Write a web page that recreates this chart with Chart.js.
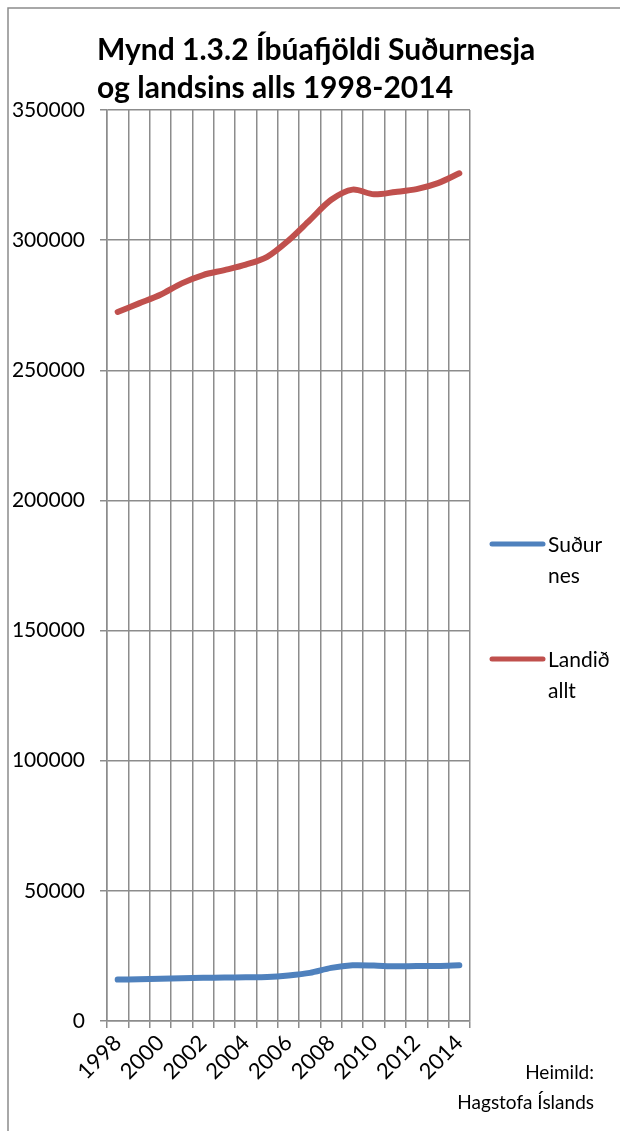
<!DOCTYPE html>
<html>
<head>
<meta charset="utf-8">
<script src="https://cdn.jsdelivr.net/npm/chart.js@4"></script>
<style>
  html, body { margin: 0; padding: 0; background: #fff; }
  #wrap { width: 620px; height: 1131px; }
</style>
</head>
<body>
<div id="wrap"><canvas id="chart-1" width="620" height="1131"></canvas></div>
<script>
const years = ["1998", "1999", "2000", "2001", "2002", "2003", "2004", "2005", "2006",
  "2007", "2008", "2009", "2010", "2011", "2012", "2013", "2014"];
const sudurnes = [15900, 16000, 16200, 16400, 16600, 16700, 16800, 16900, 17500,
  18500, 20400, 21400, 21300, 21000, 21100, 21100, 21400];
const landid = [272400, 275700, 279000, 283400, 286600, 288500, 290600, 293600, 299900,
  307700, 315500, 319400, 317600, 318500, 319600, 321900, 325700];
const yTicks = [0, 50000, 100000, 150000, 200000, 250000, 300000, 350000];

const titleLines = ["Mynd 1.3.2 Íbúafjöldi Suðurnesja", "og landsins alls 1998-2014"];
const sourceLines = ["Heimild:", "Hagstofa Íslands"];
const legendLines = [["Suður", "nes"], ["Landið", "allt"]];

const FONT = "Lato, 'Open Sans', sans-serif";
const gridColor = "#8c8c8c";

const extras = {
  id: "extras",
  afterDraw(chart) {
    const ctx = chart.ctx;
    ctx.save();
    // outer frame (cut off on the right and bottom)
    ctx.strokeStyle = "#8c8c8c";
    ctx.lineWidth = 1.5;
    ctx.beginPath();
    ctx.moveTo(8, 1140);
    ctx.lineTo(8, 8);
    ctx.lineTo(630, 8);
    ctx.stroke();

    // title
    ctx.fillStyle = "#000";
    ctx.font = "bold 30px " + FONT;
    ctx.textAlign = "left";
    ctx.textBaseline = "middle";
    ctx.fillText(titleLines[0], 97, 50);
    ctx.fillText(titleLines[1], 97, 88);

    // legend
    const ys = [544, 659];
    chart.data.datasets.forEach((ds, i) => {
      ctx.strokeStyle = ds.borderColor;
      ctx.lineWidth = 5;
      ctx.lineCap = "round";
      ctx.beginPath();
      ctx.moveTo(492, ys[i]);
      ctx.lineTo(543, ys[i]);
      ctx.stroke();
      ctx.fillStyle = "#000";
      ctx.font = "21px " + FONT;
      ctx.textAlign = "left";
      ctx.fillText(legendLines[i][0], 548, ys[i] + 1);
      ctx.fillText(legendLines[i][1], 548, ys[i] + 32);
    });

    // source
    ctx.font = "19px " + FONT;
    ctx.textAlign = "right";
    ctx.fillText(sourceLines[0], 594, 1073);
    ctx.fillText(sourceLines[1], 594, 1103);
    ctx.restore();
  }
};

const lineChart = new Chart(document.getElementById("chart-1"), {
  type: "line",
  data: {
    labels: years,
    datasets: [
      {
        label: "Suðurnes",
        data: sudurnes,
        borderColor: "#4f81bd",
        backgroundColor: "#4f81bd",
        borderWidth: 6,
        pointRadius: 0,
        tension: 0.3,
        borderCapStyle: "round",
      },
      {
        label: "Landið allt",
        data: landid,
        borderColor: "#c0504d",
        backgroundColor: "#c0504d",
        borderWidth: 6,
        pointRadius: 0,
        tension: 0.3,
        borderCapStyle: "round",
      },
    ],
  },
  options: {
    responsive: false,
    animation: false,
    layout: { padding: { left: 0, right: 150, top: 110, bottom: 0 } },
    plugins: {
      legend: { display: false },
      title: { display: false },
      tooltip: { enabled: false },
    },
    scales: {
      x: {
        offset: true,
        grid: { offset: true, color: gridColor, lineWidth: 1.5, tickLength: 7, drawTicks: true },
        border: { color: gridColor, width: 1.5 },
        ticks: {
          autoSkip: false,
          maxRotation: 45,
          minRotation: 45,
          padding: 2,
          color: "#000",
          font: { family: FONT, size: 22 },
          callback: (v, i) => (i % 2 === 0 ? years[i] : ""),
        },
        afterFit: (s) => { s.height = 110; },
      },
      y: {
        min: 0,
        max: 350000,
        afterBuildTicks: (s) => { s.ticks = yTicks.map((v) => ({ value: v })); },
        grid: { color: gridColor, lineWidth: 1.5, tickLength: 7 },
        border: { color: gridColor, width: 1.5 },
        ticks: {
          padding: 15,
          color: "#000",
          font: { family: FONT, size: 21 },
          callback: (v) => String(v),
        },
        afterFit: (s) => { s.width = 107; },
      },
    },
  },
  plugins: [extras],
});
</script>
</body>
</html>
